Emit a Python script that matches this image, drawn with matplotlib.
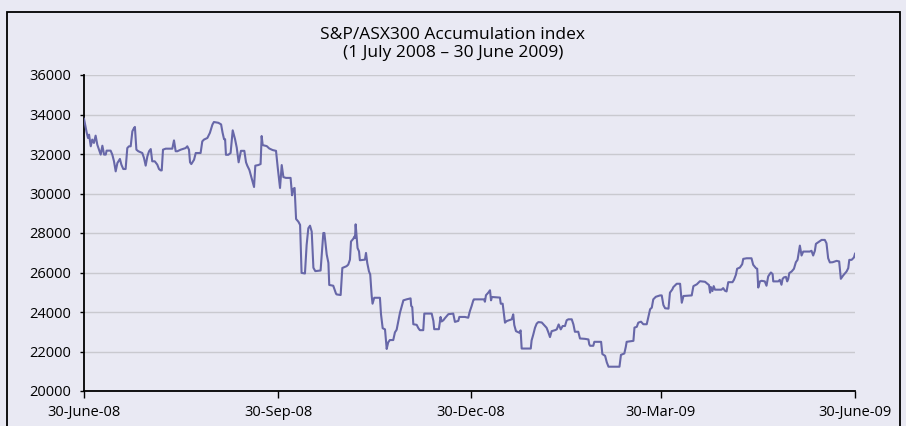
import pandas as pd
import matplotlib
matplotlib.use("Agg")
import matplotlib.pyplot as plt
from matplotlib.patches import Rectangle

# days after 30 June 2008, and the index level
days = [
    0.0, 1.3, 1.9, 2.4, 3.2, 3.9, 4.7, 5.5, 6.3, 7.1, 7.9, 8.7, 9.5, 10.3, 10.7,
    12.6, 13.4, 14.2, 15.0, 15.8, 17.0, 17.7, 18.6, 19.7, 20.5, 21.3, 22.1, 22.9,
    23.7, 24.1, 24.8, 25.7, 27.6, 28.4, 29.2, 30.0, 30.8, 31.6, 32.3, 33.5, 34.7,
    35.5, 36.3, 36.8, 37.4, 38.7, 41.8, 42.6, 43.4, 44.2, 45.8, 48.1, 48.9, 49.7,
    50.2, 50.8, 52.1, 52.9, 55.2, 56.0, 56.8, 58.4, 59.6, 60.8,
    61.5, 63.6, 64.9, 65.6, 66.3, 66.8, 67.2, 68.3, 69.4, 70.4, 71.5, 72.3, 73.2,
    74.3, 75.9, 76.7, 77.3, 78.3, 79.2, 80.5, 81.1, 82.5, 83.6, 84.1, 84.6, 86.5,
    87.7, 89.3, 90.9, 91.7, 92.8, 93.6, 94.4, 95.6, 97.8, 98.5, 99.1, 99.7, 100.4,
    101.5, 102.3, 103.0, 104.6, 105.4, 106.2, 107.0, 107.8, 108.6, 109.5, 112.0,
    113.3, 113.8, 114.9, 115.7, 116.1, 118.0, 119.3,
    119.6, 121.5, 122.3, 124.3, 125.1, 125.9, 126.4, 127.5, 128.0, 128.3, 128.6,
    129.1, 129.5, 130.2, 130.6, 133.0, 133.5, 134.1, 134.9, 135.5, 136.2, 136.6,
    137.4, 140.1, 140.6, 141.4, 142.5, 143.3, 144.0, 144.8, 146.4, 147.2, 148.0,
    148.5, 149.6, 151.2, 152.7, 154.6, 154.9, 155.4, 155.9, 157.5, 158.3, 159.0,
    160.6, 161.1, 164.6, 165.4, 165.8, 168.0, 168.8, 169.3, 170.1, 170.9, 172.5,
    174.8, 175.6, 177.2, 177.7, 180.3,
    181.9, 182.7, 183.5, 184.3, 184.6, 189.4, 189.8, 190.3, 191.4, 192.2, 192.7,
    193.1, 196.9, 197.3, 198.2, 199.3, 200.1, 202.5, 203.2, 203.7, 204.5, 206.1,
    206.7, 207.2, 211.5, 211.9, 212.7, 213.5, 214.3, 215.1, 216.7, 218.2, 219.0,
    219.8, 220.6, 221.4, 223.0, 223.8, 224.7, 225.7, 226.6, 227.7, 228.5, 229.3,
    230.9, 231.7, 232.4, 234.0, 234.8, 237.2, 238.8, 239.2,
    239.6, 241.1, 241.6, 244.8, 245.4, 246.7, 247.5, 248.3, 253.5, 254.2, 255.8,
    256.5, 256.9, 260.1, 260.6, 261.7, 262.4, 263.7, 264.8, 266.4, 267.2, 268.0,
    268.8, 269.5, 270.7, 272.7, 273.5, 274.3, 275.1, 276.7, 277.4, 278.5, 279.0,
    280.6, 282.2, 283.0, 283.8, 287.7, 288.5, 290.1, 291.6, 294.0, 295.9, 296.4,
    296.8, 297.5, 298.1,
    298.7, 301.8, 302.6, 303.4, 304.2, 305.0, 307.0, 307.7, 308.6, 309.2, 310.5,
    311.6, 312.1, 313.7, 316.0, 316.8, 318.1, 318.7, 319.2, 320.0, 320.8, 322.3,
    323.1, 323.9, 324.7, 325.2, 326.0, 326.3, 328.7, 329.4, 330.2, 330.7, 331.3,
    332.3, 332.9, 333.4, 333.9, 335.0, 336.1, 337.0, 337.8, 338.9, 339.7, 340.5,
    343.6, 344.4, 345.2, 346.0, 346.5, 347.6, 349.2, 350.7, 351.5, 352.3, 353.1,
    354.4, 356.3, 357.5, 358.3, 359.4, 361.0, 361.8, 362.3, 363.4, 364.5, 365.0,
]
values = [
    33780, 33070, 32810, 32980, 32390, 32730, 32560, 32930, 32470, 32220, 31970,
    32420, 31970, 31970, 32170, 32170, 31970, 31630, 31120, 31540, 31750, 31460,
    31240, 31240, 32300, 32390, 32390, 33150, 33320, 33370, 32220, 32140, 32050,
    31800, 31410, 31880, 32140, 32250, 31630, 31630, 31460, 31240, 31170, 31170,
    32220, 32270, 32270, 32690, 32140, 32140, 32220, 32300, 32390, 32220, 31580,
    31490, 31710, 32050, 32050, 32640, 32730, 32810, 33070, 33490,
    33620, 33580, 33500, 33080, 32750, 32750, 31960, 31960, 32050, 33200, 32750,
    32330, 31580, 32160, 32160, 31580, 31410, 31190, 30830, 30330, 31410, 31440,
    31490, 32910, 32450, 32400, 32280, 32200, 32160, 31330, 30280, 31440, 30830,
    30790, 30790, 29910, 30240, 30280, 28710, 28570, 28410, 25980, 25950, 27400,
    28240, 28370, 28070, 26240, 26070, 26100, 28000, 28000, 26910, 26490, 25370,
    25330, 24930,
    24890, 24860, 26230, 26320, 26400, 26650, 27570, 27710, 27820, 27740, 28440,
    27740, 27240, 27070, 26620, 26650, 26990, 26480, 26060, 25900, 24810, 24420,
    24720, 24720, 23890, 23180, 23120, 22130, 22460, 22580, 22580, 22970, 23100,
    23380, 23970, 24590, 24640, 24690, 24310, 24250, 23380, 23350, 23180, 23080,
    23080, 23920, 23920, 23550, 23130, 23130, 23750, 23520, 23580, 23690, 23890,
    23920, 23500, 23550, 23750, 23750,
    23710, 24050, 24300, 24590, 24640, 24640, 24520, 24850, 24980, 25100, 24590,
    24760, 24730, 24420, 24420, 23460, 23540, 23630, 23880, 23340, 23030, 22950,
    23070, 22150, 22150, 22560, 22860, 23200, 23410, 23490, 23470, 23290, 23200,
    22980, 22730, 23030, 23080, 23120, 23370, 23120, 23290, 23290, 23580, 23630,
    23630, 23370, 23000, 23000, 22660, 22640, 22610, 22360,
    22290, 22290, 22490, 22490, 21870, 21780, 21450, 21230, 21230, 21830, 21900,
    22240, 22490, 22540, 23210, 23250, 23460, 23510, 23380, 23380, 23750, 24140,
    24220, 24640, 24770, 24840, 24840, 24350, 24190, 24170, 24980, 25140, 25260,
    25430, 25430, 24470, 24810, 24840, 25310, 25400, 25560, 25530, 25360, 24980,
    25260, 25060, 25310,
    25130, 25130, 25210, 25080, 25040, 25510, 25510, 25630, 25880, 26190, 26250,
    26420, 26690, 26720, 26720, 26390, 26220, 26190, 25240, 25550, 25580, 25550,
    25330, 25800, 25930, 26000, 25920, 25550, 25550, 25630, 25380, 25670, 25750,
    25780, 25550, 25680, 25970, 26050, 26190, 26520, 26640, 27360, 26860, 27060,
    27060, 27100, 26860, 27100, 27450, 27530, 27650, 27650, 27480, 26720, 26510,
    26520, 26590, 26560, 25680, 25850, 26050, 26220, 26640, 26640, 26760, 26950,
]

tick_dates = ["2008-06-30", "2008-09-30", "2008-12-30", "2009-03-30", "2009-06-30"]
tick_labels = ["30-June-08", "30-Sep-08", "30-Dec-08", "30-Mar-09", "30-June-09"]
y_ticks = list(range(20000, 36001, 2000))

title = "S&P/ASX300 Accumulation index"
subtitle = "(1 July 2008 \u2013 30 June 2009)"

bg = "#e9e9f3"
line_color = "#6767a8"

plt.rcParams["font.family"] = ["Open Sans", "DejaVu Sans"]

dates = pd.Timestamp("2008-06-30") + pd.to_timedelta(days, unit="D")

fig = plt.figure(figsize=(9.06, 4.26), dpi=100, facecolor=bg)
ax = fig.add_axes([84 / 906, 35 / 426, 771 / 906, 316 / 426], facecolor=bg)

# outer frame box
fig.patches.append(Rectangle((7 / 906, -0.05), 893 / 906, 1.05 - 12 / 426,
                             transform=fig.transFigure, fill=False,
                             edgecolor="black", linewidth=1.3))

ax.plot(dates, values, color=line_color, linewidth=1.5, zorder=3)

ax.set_ylim(20000, 36000)
ax.set_yticks(y_ticks)
ax.set_xlim(pd.Timestamp(tick_dates[0]), pd.Timestamp(tick_dates[-1]))
ax.set_xticks([pd.Timestamp(d) for d in tick_dates])
ax.set_xticklabels(tick_labels)

ax.grid(axis="y", color="#c9c9cf", linewidth=1.0)
ax.set_axisbelow(True)
for side in ["top", "right"]:
    ax.spines[side].set_visible(False)
for side in ["left", "bottom"]:
    ax.spines[side].set_color("black")
    ax.spines[side].set_linewidth(1.3)

ax.tick_params(axis="y", length=3, width=1, labelsize=10.5, pad=6)
ax.tick_params(axis="x", length=5, width=1, labelsize=10.5, pad=5)

fig.text(0.5, 1 - 35 / 426, title, ha="center", va="center", fontsize=12.5)
fig.text(0.5, 1 - 53 / 426, subtitle, ha="center", va="center", fontsize=12.5)

fig.savefig("out.png", dpi=100, facecolor=bg)
